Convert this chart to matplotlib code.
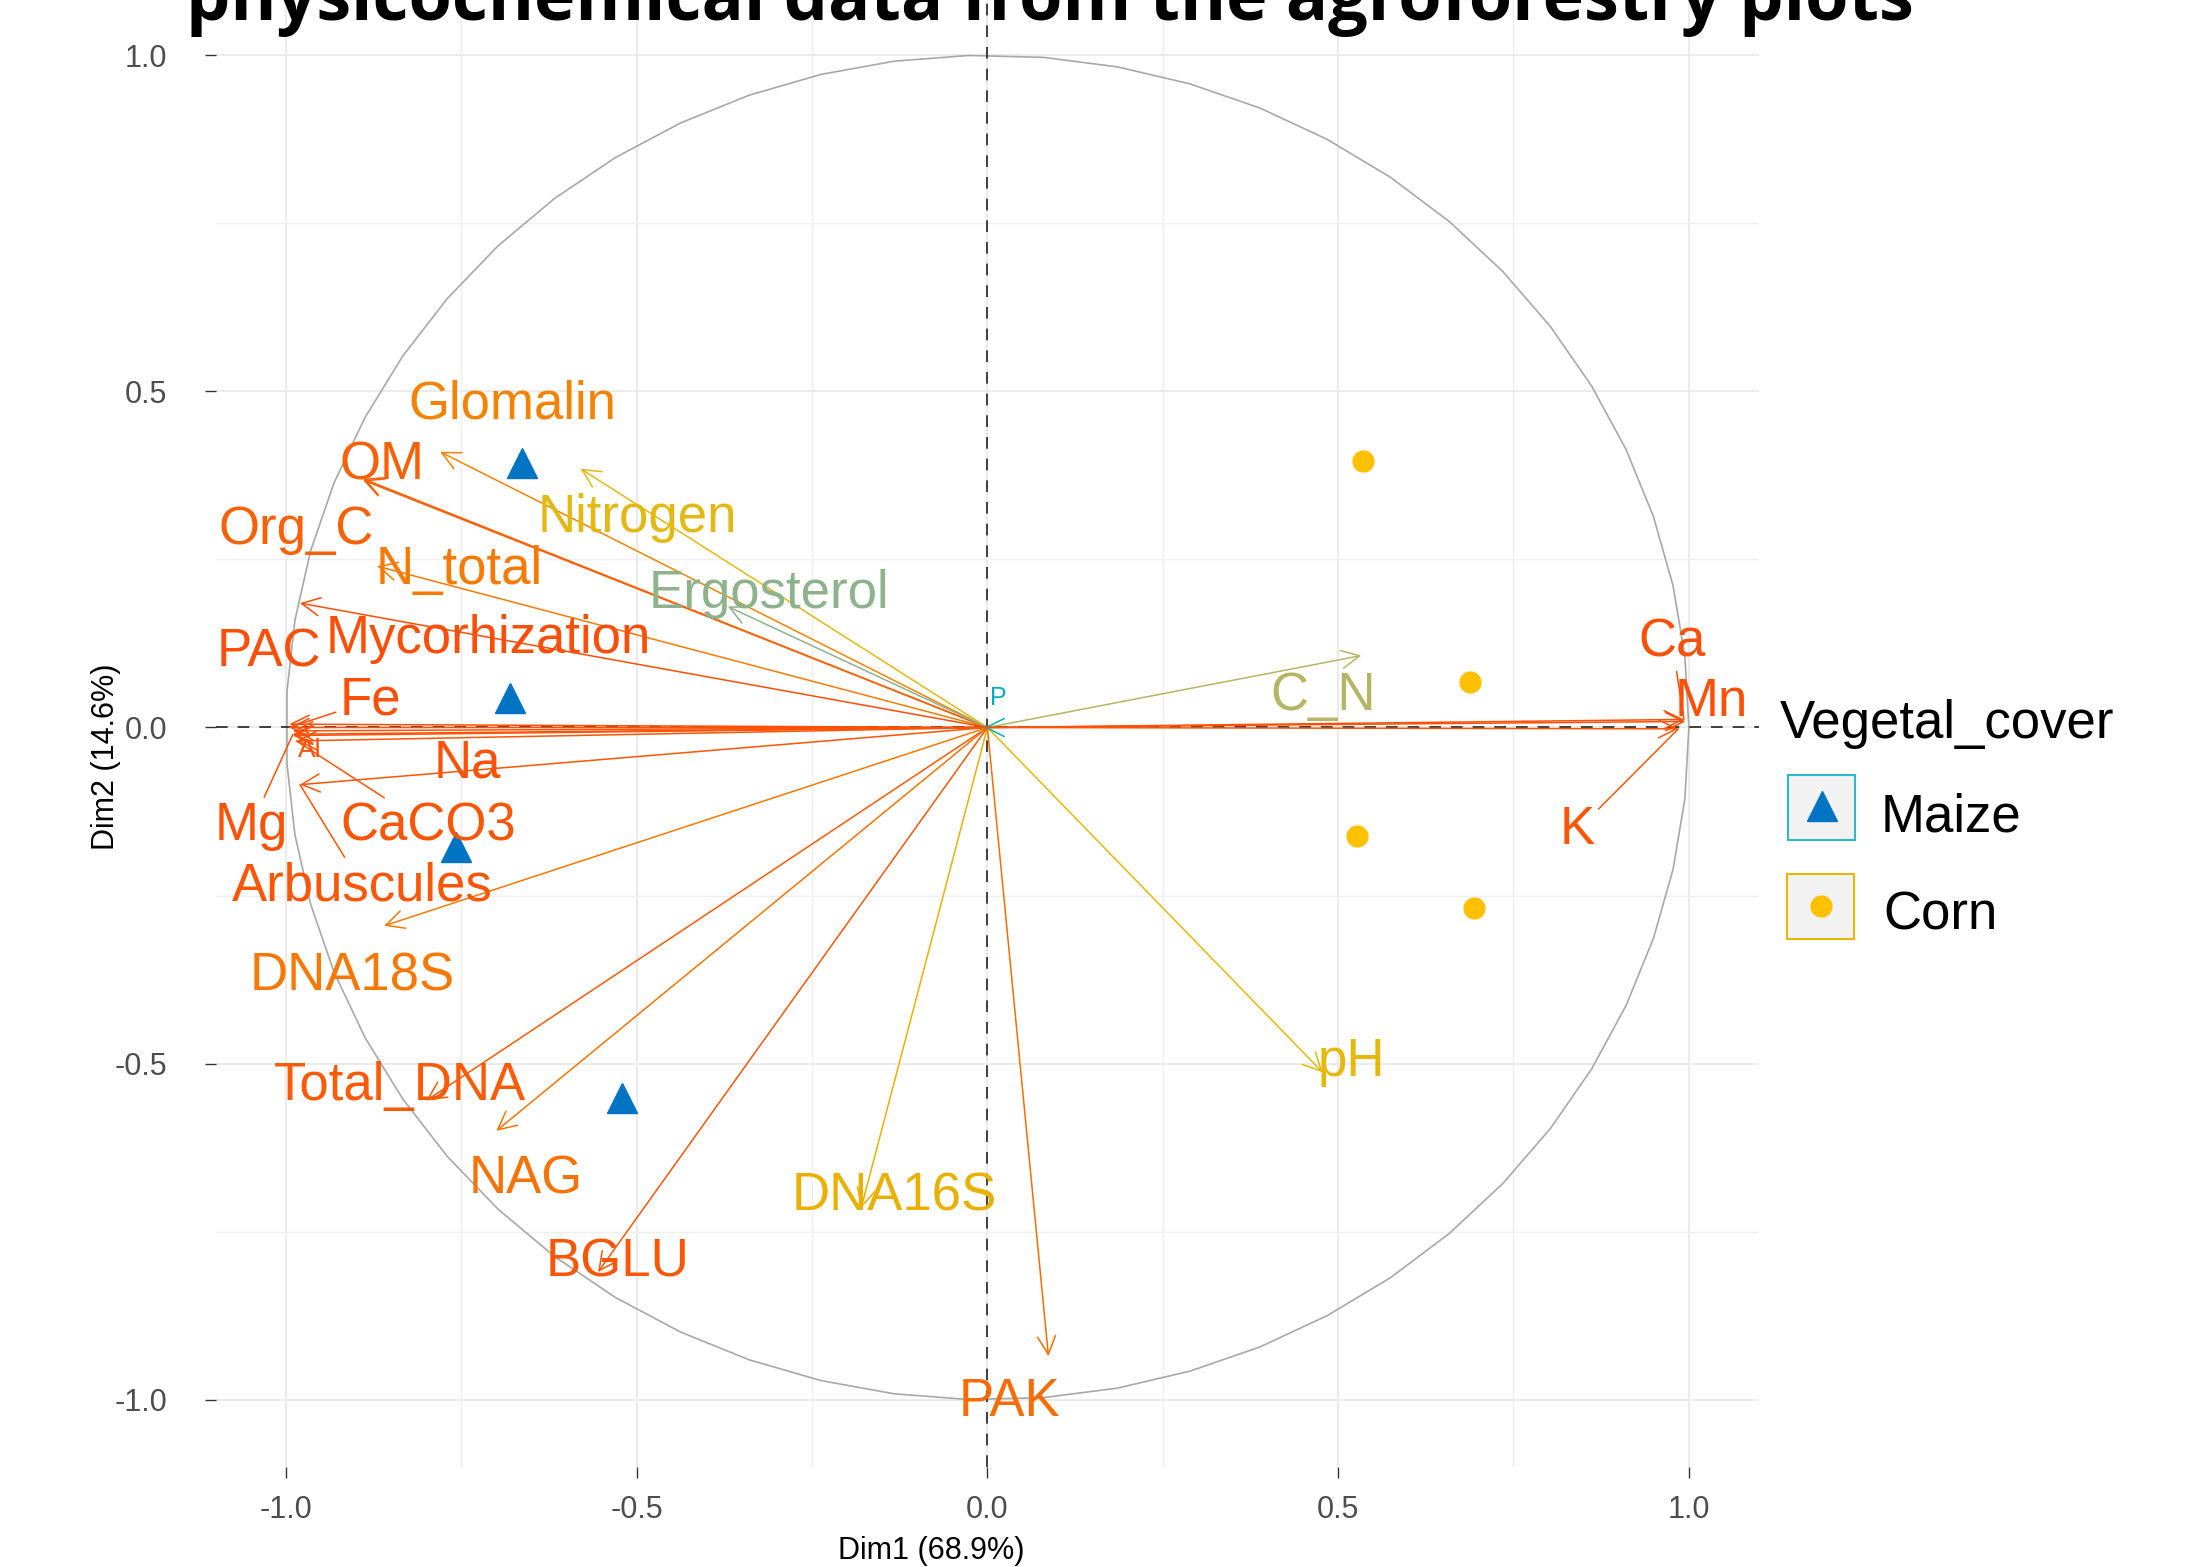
import numpy as np
import matplotlib.pyplot as plt
from matplotlib.patches import FancyArrowPatch, Rectangle, ArrowStyle
from matplotlib.colors import ListedColormap, Normalize, to_rgb

# variable coordinates on the correlation circle (Dim1, Dim2)
var_names = ["Glomalin", "OM", "Org_C", "N_total", "Nitrogen", "Ergosterol",
             "Mycorhization", "PAC", "Fe", "Al", "Na", "Mg", "CaCO3",
             "Arbuscules", "DNA18S", "Total_DNA", "NAG", "BGLU", "DNA16S",
             "PAK", "pH", "C_N", "P", "Ca", "Mn", "K"]
dim1 = [-0.78, -0.89, -0.89, -0.87, -0.58, -0.37,
        -0.98, -0.995, -0.995, -0.99, -0.99, -0.99, -0.985,
        -0.98, -0.86, -0.80, -0.70, -0.555, -0.18,
        0.087, 0.478, 0.533, -0.004, 0.993, 0.995, 0.985]
dim2 = [0.41, 0.37, 0.368, 0.24, 0.385, 0.18,
        0.185, 0.005, 0.0, -0.005, -0.012, -0.01, -0.02,
        -0.085, -0.295, -0.555, -0.60, -0.81, -0.715,
        -0.935, -0.513, 0.107, 0.0, 0.012, 0.009, -0.002]

# individuals
maize_x = [-0.664, -0.680, -0.757, -0.521]
maize_y = [0.394, 0.044, -0.178, -0.551]
corn_x = [0.535, 0.688, 0.527, 0.694]
corn_y = [0.396, 0.068, -0.162, -0.269]

x_label = "Dim1 (68.9%)"
y_label = "Dim2 (14.6%)"
title = "physicochemical data from the agroforestry plots"

# where the (repelled) labels ended up
label_pos = {
    "Glomalin": (-0.678, 0.481), "OM": (-0.863, 0.390), "Org_C": (-0.986, 0.294),
    "N_total": (-0.753, 0.234), "Nitrogen": (-0.499, 0.311),
    "Ergosterol": (-0.312, 0.199), "Mycorhization": (-0.712, 0.131),
    "PAC": (-1.024, 0.112), "Fe": (-0.879, 0.040), "Al": (-0.966, -0.033),
    "Na": (-0.742, -0.054), "Mg": (-1.050, -0.147), "CaCO3": (-0.797, -0.147),
    "Arbuscules": (-0.891, -0.236), "DNA18S": (-0.905, -0.371),
    "Total_DNA": (-0.837, -0.534), "NAG": (-0.658, -0.673),
    "BGLU": (-0.527, -0.796), "DNA16S": (-0.133, -0.698),
    "PAK": (0.032, -1.003), "pH": (0.519, -0.497), "C_N": (0.479, 0.047),
    "P": (0.016, 0.044), "Ca": (0.976, 0.127), "Mn": (1.032, 0.038),
    "K": (0.841, -0.153),
}
with_segment = ["Fe", "Mg", "CaCO3", "Arbuscules", "Ca", "K"]
small_labels = {"Al": 19, "P": 18}


# ggplot style gradient (interpolated in Lab space)
def to_lab(c):
    rgb = np.array(to_rgb(c))
    lin = np.where(rgb <= 0.04045, rgb / 12.92, ((rgb + 0.055) / 1.055) ** 2.4)
    M = np.array([[0.4124, 0.3576, 0.1805],
                  [0.2126, 0.7152, 0.0722],
                  [0.0193, 0.1192, 0.9505]])
    xyz = M @ lin / np.array([0.95047, 1.0, 1.08883])
    f = np.where(xyz > 0.008856, np.cbrt(xyz), 7.787 * xyz + 16 / 116)
    return np.array([116 * f[1] - 16, 500 * (f[0] - f[1]), 200 * (f[1] - f[2])])


def from_lab(lab):
    fy = (lab[:, 0] + 16) / 116
    f = np.stack([fy + lab[:, 1] / 500, fy, fy - lab[:, 2] / 200], axis=1)
    xyz = np.where(f ** 3 > 0.008856, f ** 3, (f - 16 / 116) / 7.787)
    xyz = xyz * np.array([0.95047, 1.0, 1.08883])
    Minv = np.linalg.inv(np.array([[0.4124, 0.3576, 0.1805],
                                   [0.2126, 0.7152, 0.0722],
                                   [0.0193, 0.1192, 0.9505]]))
    lin = np.clip(xyz @ Minv.T, 0, 1)
    rgb = np.where(lin <= 0.0031308, 12.92 * lin, 1.055 * lin ** (1 / 2.4) - 0.055)
    return np.clip(rgb, 0, 1)


anchors = [to_lab(c) for c in ["#00AFBB", "#E7B800", "#FC4E07"]]
t = np.linspace(0, 1, 256)[:, None]
lab = np.where(t < 0.5, anchors[0] + (anchors[1] - anchors[0]) * t * 2,
               anchors[1] + (anchors[2] - anchors[1]) * (t - 0.5) * 2)
cmap = ListedColormap(from_lab(lab))

cos2 = np.array(dim1) ** 2 + np.array(dim2) ** 2
norm = Normalize(cos2.min(), cos2.max())

plt.rcParams['font.family'] = ['Liberation Sans', 'DejaVu Sans']
plt.rcParams['axes.unicode_minus'] = False

W, H = 2187, 1567
fig = plt.figure(figsize=(W / 100, H / 100), dpi=100)
ax = fig.add_axes([215.8 / W, 1 - 1467 / H, 1543.2 / W, 1479 / H])
ax.set_xlim(-1.1, 1.1)
ax.set_ylim(-1.1, 1.1)
for s in ax.spines.values():
    s.set_visible(False)
ax.set_xticks([-1, -0.5, 0, 0.5, 1])
ax.set_yticks([-1, -0.5, 0, 0.5, 1])
ax.set_xticks([-0.75, -0.25, 0.25, 0.75], minor=True)
ax.set_yticks([-0.75, -0.25, 0.25, 0.75], minor=True)
ax.grid(True, which='major', color='#EBEBEB', lw=1.4)
ax.grid(True, which='minor', color='#EFEFEF', lw=1.0)
ax.tick_params(which='minor', length=0)
ax.tick_params(axis='x', length=8, width=1.0, color='#333333', labelsize=22,
               labelcolor='#4D4D4D', pad=12)
ax.tick_params(axis='y', length=8, width=1.0, color='#333333', labelsize=22,
               labelcolor='#4D4D4D', pad=27)
ax.set_axisbelow(True)

# unit circle and reference lines
theta = np.linspace(0, 2 * np.pi, 60)
ax.plot(np.cos(theta), np.sin(theta), color='#A8A8A8', lw=1.2, zorder=1)
ax.axhline(0, color='#222222', lw=1.2, dashes=(7, 6), zorder=1)
ax.axvline(0, color='#222222', lw=1.2, dashes=(7, 6), zorder=1)

# individuals
ax.plot(maize_x, maize_y, ls='none', marker='^', ms=21, color='#0073C2', zorder=3)
ax.plot(corn_x, corn_y, ls='none', marker='o', ms=15, color='#FFC000', zorder=3)

# variable arrows and labels
head = ArrowStyle('->', head_length=13, head_width=6.5)
for name, x, y, c2 in zip(var_names, dim1, dim2, cos2):
    col = cmap(norm(c2))
    ax.add_patch(FancyArrowPatch((0, 0), (x, y), arrowstyle=head, mutation_scale=1,
                                 color=col, lw=1.1, shrinkA=0, shrinkB=0, zorder=2))
    fs = small_labels.get(name, 38)
    if name in with_segment:
        ax.annotate(name, xy=(x, y), xytext=label_pos[name], fontsize=fs,
                    color=col, ha='center', va='center', zorder=4,
                    arrowprops=dict(arrowstyle='-', color=col, lw=1.1,
                                    shrinkA=1, shrinkB=0))
    else:
        ax.text(*label_pos[name], name, fontsize=fs, color=col,
                ha='center', va='center', zorder=4)

# overlay in pixel units for titles and legend
lay = fig.add_axes([0, 0, 1, 1])
lay.set_xlim(0, W)
lay.set_ylim(H, 0)
lay.axis('off')

lay.text(931, 1551, x_label, fontsize=22, ha='center', va='center')
lay.text(106, 757, y_label, fontsize=22, ha='center', va='center', rotation=90)

# title line is cut by the top edge, as in the reference
t_obj = lay.text(1050, 20, title, fontsize=45, fontweight='bold',
                 family=['Open Sans', 'DejaVu Sans'], ha='center', va='baseline')
r = fig.canvas.get_renderer()
w = t_obj.get_window_extent(r).width
t_obj.set_fontsize(45 * 1728 / w)

lay.text(1780, 738, "Vegetal_cover", fontsize=38, va='baseline')
lay.add_patch(Rectangle((1788, 775), 67, 65, fc='#F2F2F2', ec='#2EB8C8', lw=1.5))
lay.plot([1822], [806], marker='^', ms=21, color='#0073C2')
lay.text(1881, 832, "Maize", fontsize=38, va='baseline')
lay.add_patch(Rectangle((1787, 874), 67, 65, fc='#F2F2F2', ec='#E7B800', lw=1.5))
lay.plot([1821], [906], marker='o', ms=15, color='#FFC000')
lay.text(1883, 930, "Corn", fontsize=38, va='baseline')

fig.savefig("out.png", dpi=100)
